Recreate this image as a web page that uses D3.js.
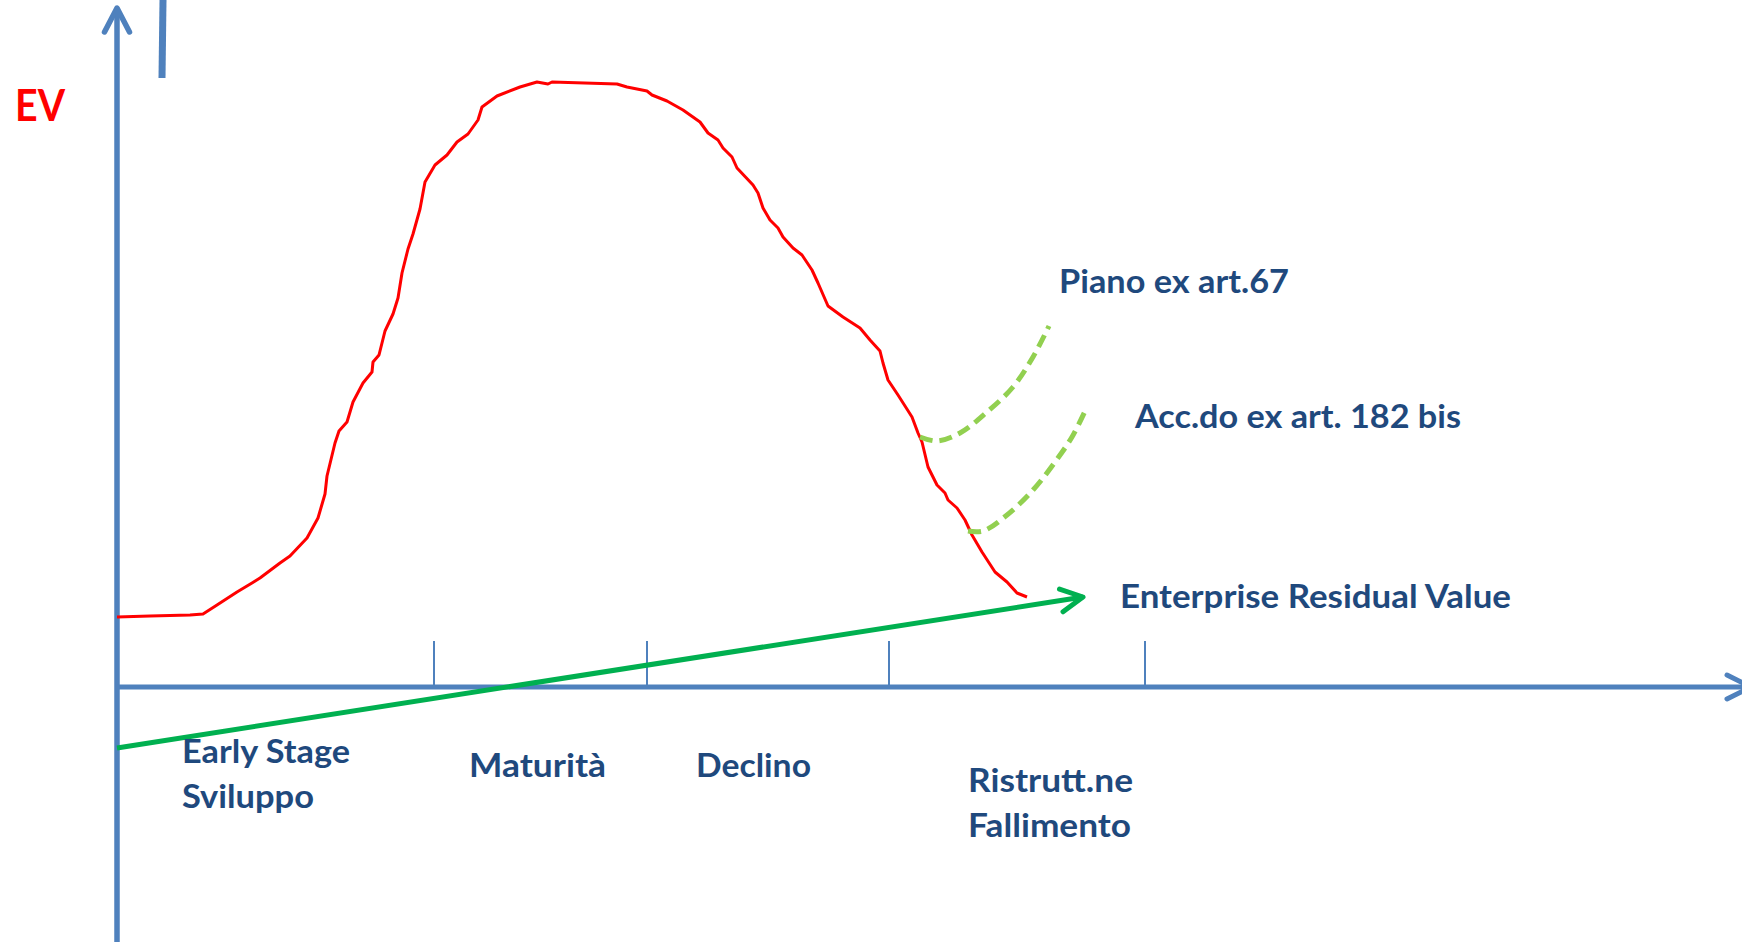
<!DOCTYPE html>
<html>
<head>
<meta charset="utf-8">
<script src="https://cdn.jsdelivr.net/npm/d3@7"></script>
<style>
body { margin: 0; background: #fff; }
svg { display: block; }
text { font-family: Lato, "Open Sans", sans-serif; font-weight: bold; }
</style>
</head>
<body>
<div id="chart"></div>
<script>
// units: 1 = 100 px of the slide, origin where the two axes cross

// EV curve (hand drawn, red)
var evX = [0.00, 0.33, 0.73, 0.86, 1.00, 1.20, 1.35, 1.43, 1.63, 1.73, 1.90, 2.01, 2.08, 2.10, 2.18, 2.22,
    2.30, 2.36, 2.46, 2.55, 2.56, 2.62, 2.68, 2.76, 2.81, 2.85, 2.91, 2.96, 3.03, 3.08, 3.18, 3.30,
    3.40, 3.51, 3.61, 3.65, 3.80, 4.03, 4.20, 4.31, 4.35, 5.00, 5.10, 5.30, 5.35, 5.50, 5.66, 5.83,
    5.91, 6.01, 6.06, 6.15, 6.20, 6.36, 6.41, 6.46, 6.53, 6.61, 6.66, 6.76, 6.85, 6.95, 7.01, 7.11,
    7.26, 7.43, 7.53, 7.63, 7.66, 7.71, 7.81, 7.95, 8.01, 8.05, 8.11, 8.20, 8.28, 8.31, 8.40, 8.48,
    8.55, 8.65, 8.78, 8.90, 9.00, 9.10];
var evY = [0.70, 0.71, 0.72, 0.73, 0.82, 0.95, 1.04, 1.09, 1.24, 1.31, 1.49, 1.69, 1.93, 2.11, 2.44, 2.56,
    2.65, 2.85, 3.04, 3.15, 3.25, 3.32, 3.56, 3.73, 3.89, 4.14, 4.38, 4.53, 4.78, 5.05, 5.22, 5.32,
    5.45, 5.53, 5.67, 5.80, 5.91, 6.00, 6.05, 6.03, 6.05, 6.03, 6.00, 5.96, 5.92, 5.86, 5.77, 5.65,
    5.54, 5.47, 5.39, 5.30, 5.19, 5.02, 4.94, 4.79, 4.67, 4.59, 4.50, 4.39, 4.32, 4.17, 4.04, 3.81,
    3.70, 3.59, 3.47, 3.36, 3.24, 3.07, 2.92, 2.70, 2.54, 2.45, 2.20, 2.02, 1.94, 1.87, 1.79, 1.67,
    1.52, 1.35, 1.15, 1.05, 0.94, 0.90];

// recovery paths (dashed, light green)
var pianoX = [8.03, 8.20, 8.43, 8.70, 8.96, 9.16, 9.32];
var pianoY = [2.50, 2.46, 2.54, 2.75, 3.00, 3.30, 3.61];
var accordoX = [8.51, 8.66, 8.90, 9.16, 9.38, 9.55, 9.69];
var accordoY = [1.56, 1.56, 1.72, 1.97, 2.25, 2.50, 2.78];

// enterprise residual value (straight arrow)
var ervX = [0.00, 9.66];
var ervY = [-0.61, 0.90];

// stage boundaries on the time axis
var tickX = [3.17, 5.30, 7.72, 10.28];

var stageLabels = [["Early Stage", "Sviluppo"], ["Maturità"], ["Declino"], ["Ristrutt.ne", "Fallimento"]];
var curveLabels = ["Piano ex art.67", "Acc.do ex art. 182 bis", "Enterprise Residual Value"];

var width = 1742, height = 942;
var axisBlue = "#4F81BD", textBlue = "#1F497D";

var x = d3.scaleLinear().domain([-1.17, 16.25]).range([0, width]);
var y = d3.scaleLinear().domain([-2.55, 6.87]).range([height, 0]);

var svg = d3.select("#chart").append("svg")
    .attr("width", width)
    .attr("height", height);

var line = d3.line()
    .x(function(d) { return x(d[0]); })
    .y(function(d) { return y(d[1]); });

var smooth = d3.line()
    .x(function(d) { return x(d[0]); })
    .y(function(d) { return y(d[1]); })
    .curve(d3.curveCatmullRom);

// open chevron at the end (x2,y2) of a segment, back = length, half = half width
function chevron(x1, y1, x2, y2, back, half, color, w) {
    var dx = x2 - x1, dy = y2 - y1;
    var len = Math.sqrt(dx * dx + dy * dy);
    var ux = dx / len, uy = dy / len;
    var bx = x2 - ux * back, by = y2 - uy * back;
    var pts = [[bx - uy * half, by + ux * half], [x2, y2], [bx + uy * half, by - ux * half]];
    svg.append("polyline")
        .attr("points", pts.map(function(p) { return p.join(","); }).join(" "))
        .attr("fill", "none")
        .attr("stroke", color)
        .attr("stroke-width", w)
        .attr("stroke-linecap", "round")
        .attr("stroke-linejoin", "round");
}

// stray mark at the top
svg.append("line")
    .attr("x1", x(0.46)).attr("y1", y(6.87))
    .attr("x2", x(0.45)).attr("y2", y(6.09))
    .attr("stroke", axisBlue)
    .attr("stroke-width", 7);

// stage ticks
svg.selectAll(".tick")
    .data(tickX)
    .enter()
    .append("line")
    .attr("x1", function(d) { return x(d); })
    .attr("x2", function(d) { return x(d); })
    .attr("y1", y(0))
    .attr("y2", y(0.46))
    .attr("stroke", axisBlue)
    .attr("stroke-width", 2);

// y axis
svg.append("line")
    .attr("x1", x(0)).attr("y1", y(-2.55))
    .attr("x2", x(0)).attr("y2", y(6.79))
    .attr("stroke", axisBlue)
    .attr("stroke-width", 5.5);
chevron(x(0), y(0), x(0), y(6.79), 24, 12.5, axisBlue, 5.5);

// x axis
svg.append("line")
    .attr("x1", x(0)).attr("y1", y(0))
    .attr("x2", x(16.34)).attr("y2", y(0))
    .attr("stroke", axisBlue)
    .attr("stroke-width", 5);
chevron(x(0), y(0), x(16.34), y(0), 24, 12, axisBlue, 5);

// EV curve
svg.append("path")
    .datum(d3.zip(evX, evY))
    .attr("d", line)
    .attr("fill", "none")
    .attr("stroke", "#FF0000")
    .attr("stroke-width", 3)
    .attr("stroke-linejoin", "round");

// recovery paths
[[pianoX, pianoY], [accordoX, accordoY]].forEach(function(s) {
    svg.append("path")
        .datum(d3.zip(s[0], s[1]))
        .attr("d", smooth)
        .attr("fill", "none")
        .attr("stroke", "#92D050")
        .attr("stroke-width", 5)
        .attr("stroke-dasharray", "13,7");
});

// residual value arrow
svg.append("line")
    .attr("x1", x(ervX[0])).attr("y1", y(ervY[0]))
    .attr("x2", x(ervX[1])).attr("y2", y(ervY[1]))
    .attr("stroke", "#00B050")
    .attr("stroke-width", 5);
chevron(x(ervX[0]), y(ervY[0]), x(ervX[1]), y(ervY[1]), 22, 11.5, "#00B050", 5);

// texts
function label(str, ux, uy, w, size, color) {
    svg.append("text")
        .attr("x", x(ux))
        .attr("y", y(uy))
        .attr("font-size", size)
        .attr("fill", color)
        .attr("textLength", w)
        .attr("lengthAdjust", "spacingAndGlyphs")
        .text(str);
}

label("EV", -1.02, 5.66, 50, 43, "#FF0000");

label(curveLabels[0], 9.42, 3.94, 230, 32.5, textBlue);
label(curveLabels[1], 10.18, 2.59, 326, 32.5, textBlue);
label(curveLabels[2], 10.03, 0.79, 391, 32.5, textBlue);

// stage names under the axis: [left, first baseline, widths]
var stagePos = [[0.65, -0.76, [168, 132]], [3.52, -0.90, [137]], [5.79, -0.90, [115]], [8.51, -1.05, [165, 163]]];
stageLabels.forEach(function(lines, i) {
    lines.forEach(function(t, j) {
        label(t, stagePos[i][0], stagePos[i][1] - j * 0.445, stagePos[i][2][j], 32.5, textBlue);
    });
});
</script>
</body>
</html>
